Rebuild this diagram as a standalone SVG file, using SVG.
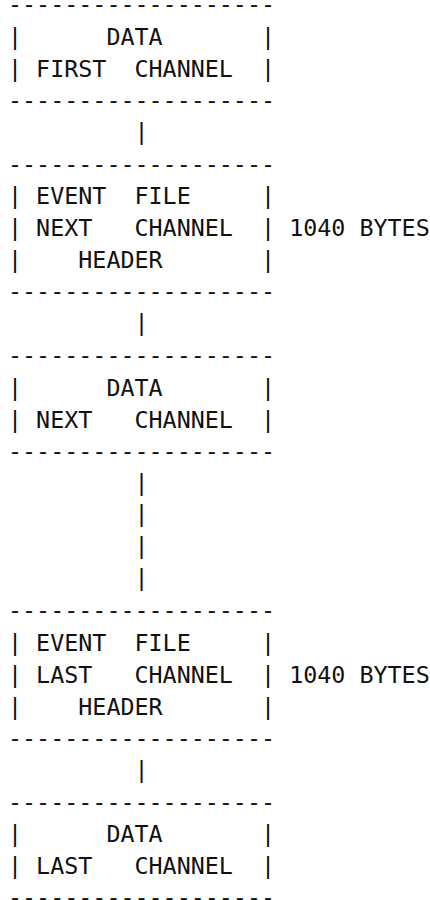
<svg xmlns="http://www.w3.org/2000/svg" width="430" height="900" viewBox="0 0 430 900">
<style>
text{font-family:"DejaVu Sans Mono","Liberation Mono",monospace;font-size:23.35px;fill:#111;white-space:pre}
</style>
<rect width="430" height="900" fill="#fff"/>
<g id="box-data-first">
<text x="8" y="12">-------------------</text>
<text x="8" y="44.9">|      DATA       |</text>
<text x="8" y="76.8">| FIRST  CHANNEL  |</text>
<text x="8" y="107.7">-------------------</text>
</g>
<g id="box-header-next">
<text x="8" y="171.5">-------------------</text>
<text x="8" y="204.4">| EVENT  FILE     |</text>
<text x="8" y="236.3">| NEXT   CHANNEL  |</text>
<text x="8" y="268.2">|    HEADER       |</text>
<text x="8" y="299.1">-------------------</text>
<text x="289.2" y="236.3">1040 BYTES</text>
</g>
<g id="box-data-next">
<text x="8" y="362.9">-------------------</text>
<text x="8" y="395.8">|      DATA       |</text>
<text x="8" y="427.7">| NEXT   CHANNEL  |</text>
<text x="8" y="458.6">-------------------</text>
</g>
<g id="box-header-last">
<text x="8" y="618.1">-------------------</text>
<text x="8" y="651">| EVENT  FILE     |</text>
<text x="8" y="682.9">| LAST   CHANNEL  |</text>
<text x="8" y="714.8">|    HEADER       |</text>
<text x="8" y="745.7">-------------------</text>
<text x="289.2" y="682.9">1040 BYTES</text>
</g>
<g id="box-data-last">
<text x="8" y="809.5">-------------------</text>
<text x="8" y="842.4">|      DATA       |</text>
<text x="8" y="874.3">| LAST   CHANNEL  |</text>
<text x="8" y="905.2">-------------------</text>
</g>
<g id="connectors">
<text x="8" y="139.6">         |</text>
<text x="8" y="331">         |</text>
<text x="8" y="490.5">         |</text>
<text x="8" y="522.4">         |</text>
<text x="8" y="554.3">         |</text>
<text x="8" y="586.2">         |</text>
<text x="8" y="777.6">         |</text>
</g>
</svg>
